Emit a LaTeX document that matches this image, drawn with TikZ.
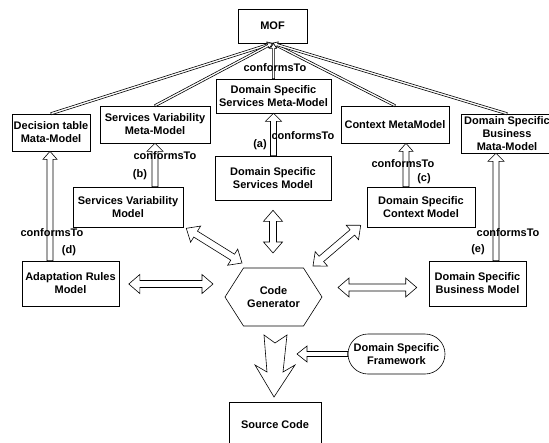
\documentclass[tikz,border=0pt]{standalone}
\usepackage{fontspec}
\setmainfont{Liberation Sans}
\usetikzlibrary{calc}

% hollow (outlined) arrow: #1 tail, #2 tip, #3 shaft half width,
% #4 head half width, #5 head length
\newcommand\hollowone[5]{%
  \coordinate (hb) at ($(#2)!#5!(#1)$);
  \filldraw[conn] ($(#1)!#3!90:(#2)$) -- ($(hb)!#3!90:(#2)$) -- ($(hb)!#4!90:(#2)$)
    -- (#2) -- ($(hb)!#4!-90:(#2)$) -- ($(hb)!#3!-90:(#2)$) -- ($(#1)!#3!-90:(#2)$) -- cycle;}
% hollow arrow with a head at both ends
\newcommand\hollowtwo[5]{%
  \coordinate (ha) at ($(#1)!#5!(#2)$);
  \coordinate (hb) at ($(#2)!#5!(#1)$);
  \filldraw[conn] (#1) -- ($(ha)!#4!90:(#2)$) -- ($(ha)!#3!90:(#2)$) -- ($(hb)!#3!90:(#2)$)
    -- ($(hb)!#4!90:(#2)$) -- (#2) -- ($(hb)!#4!-90:(#2)$) -- ($(hb)!#3!-90:(#2)$)
    -- ($(ha)!#3!-90:(#2)$) -- ($(ha)!#4!-90:(#2)$) -- cycle;}

\tikzset{
  txt/.style={font=\fontsize{11}{13}\selectfont\bfseries},
  box/.style={txt, draw, line width=0.6pt, fill=white, align=center, inner sep=0pt},
  lbl/.style={txt, inner sep=0pt},
  conn/.style={draw=black, fill=white, line width=0.6pt, line join=miter},
}

\begin{document}
\begin{tikzpicture}[x=1pt, y=-1pt]
\useasboundingbox (0,0) rectangle (549,442);
\clip (0,0) rectangle (549,442);
\fill[white] (0,0) rectangle (549,442);

% meta level
\node[box, minimum width=69pt, minimum height=34pt] (MOF) at (272.5,26) {MOF};
\node[box, minimum width=115pt, minimum height=34pt] (DSSMM) at (273.5,96) {Domain Specific\\Services Meta-Model};
\node[box, minimum width=78pt, minimum height=37pt] (DTMM) at (51,132.5) {Decision table\\Mata-Model};
\node[box, minimum width=110pt, minimum height=37pt] (SVMM) at (155,124.5) {Services Variability\\Meta-Model};
\node[box, minimum width=108pt, minimum height=37pt] (CMM) at (395,124.5) {Context MetaModel};
\node[box, minimum width=92pt, minimum height=39pt] (DSBMM) at (507,133.5) {Domain Specific\\Business\\Mata-Model};

% model level
\node[box, minimum width=116pt, minimum height=44pt] (DSSM) at (273,178) {Domain Specific\\Services Model};
\node[box, minimum width=110pt, minimum height=40pt] (SVM) at (128,207) {Services Variability\\Model};
\node[box, minimum width=108pt, minimum height=40pt] (DSCM) at (421,207) {Domain Specific\\Context Model};
\node[box, minimum width=97pt, minimum height=45pt] (ARM) at (70.5,283.5) {Adaptation Rules\\Model};
\node[box, minimum width=97pt, minimum height=45pt] (DSBM) at (477.5,283.5) {Domain Specific\\Business Model};

% generator, framework and output
\node[lbl, align=center] (CG) at (273.5,297) {Code\\Generator};
\draw[line width=0.6pt, line join=miter] (CG.center) ++(-48.5,0) -- ++(18.5,-29) -- ++(60,0)
  -- ++(18.5,29) -- ++(-18.5,29) -- ++(-60,0) -- cycle;
\node[box, minimum width=97pt, minimum height=40pt, rounded corners=20pt] (DSF) at (396.5,354) {Domain Specific\\Framework};
\node[box, minimum width=92pt, minimum height=46pt] (SC) at (275,425) {Source Code};

% conformsTo links up to MOF
\coordinate (mofin) at (MOF.south);
\hollowone{DTMM.north}{mofin}{1.1pt}{3pt}{5pt}
\hollowone{SVMM.north}{mofin}{1.1pt}{3pt}{5pt}
\hollowone{CMM.north}{mofin}{1.1pt}{3pt}{5pt}
\hollowone{DSBMM.north}{mofin}{1.1pt}{3pt}{5pt}
\coordinate (mofa) at (DSSMM.north);
\coordinate (mofb) at (mofa |- MOF.south);
\hollowone{mofa}{mofb}{1.1pt}{3pt}{5pt}
\node[lbl] (lmof) at (275,68) {conformsTo};

% conformsTo links from models to meta-models
\coordinate (a1) at (DSSMM.south);
\coordinate (a0) at (a1 |- DSSM.north);
\hollowone{a0}{a1}{3pt}{8pt}{8pt}
\coordinate (b1) at (SVMM.south);
\coordinate (b0) at (b1 |- SVM.north);
\hollowone{b0}{b1}{3pt}{8pt}{8pt}
\coordinate (c1) at ([xshift=11pt]CMM.south);
\coordinate (c0) at (c1 |- DSCM.north);
\hollowone{c0}{c1}{3pt}{7pt}{8pt}
\coordinate (d1) at ([xshift=-1pt]DTMM.south);
\coordinate (d0) at (d1 |- ARM.north);
\hollowone{d0}{d1}{3pt}{7pt}{8pt}
\coordinate (e1) at ([xshift=-11pt]DSBMM.south);
\coordinate (e0) at (e1 |- DSBM.north);
\hollowone{e0}{e1}{3pt}{8pt}{8pt}

\node[lbl] (la) at (303,136) {conformsTo};
\node[lbl] (ta) at (260,145) {(a)};
\node[lbl] (lb) at (165,156) {conformsTo};
\node[lbl] (tb) at (140,175) {(b)};
\node[lbl] (lc) at (403,164) {conformsTo};
\node[lbl] (tc) at (424,179) {(c)};
\node[lbl] (ld) at (52,233) {conformsTo};
\node[lbl] (td) at (69,251) {(d)};
\node[lbl] (le) at (508,233) {conformsTo};
\node[lbl] (te) at (478,250) {(e)};

% exchanges with the code generator
\coordinate (sv1) at ($(SVM.south east)+(3,1)$);
\coordinate (sv2) at ($(CG)+(-31.5,-34)$);
\hollowtwo{sv1}{sv2}{3.5pt}{9.5pt}{11pt}
\coordinate (ds1) at ($(DSSM.south)+(0,10)$);
\coordinate (ds2) at ($(CG)+(-0.5,-44)$);
\hollowtwo{ds1}{ds2}{3.5pt}{9.5pt}{11pt}
\coordinate (dc1) at ($(DSCM.south west)+(-6,-2)$);
\coordinate (dc2) at ($(CG)+(39.5,-31)$);
\hollowtwo{dc1}{dc2}{3.5pt}{9.5pt}{11pt}
\coordinate (ar1) at ($(ARM.east)+(9.5,0.5)$);
\coordinate (ar2) at ($(CG)+(-60.5,-13)$);
\hollowtwo{ar1}{ar2}{3.5pt}{9.5pt}{11pt}
\coordinate (db1) at ($(CG)+(64.5,-9.5)$);
\coordinate (db2) at ($(DSBM.west)+(-12,4)$);
\hollowtwo{db1}{db2}{3.5pt}{9.5pt}{11pt}

% generation arrow towards the source code
\filldraw[conn] (264,335) -- (275,343) -- (287,335) -- (283,372) -- (295,365)
  -- (274,397) -- (255,365) -- (267,372) -- cycle;

% framework feeding the generation
\coordinate (fw) at ($(CG)+(23.5,57)$);
\hollowone{DSF.west}{fw}{2.5pt}{8pt}{10pt}
\end{tikzpicture}
\end{document}
